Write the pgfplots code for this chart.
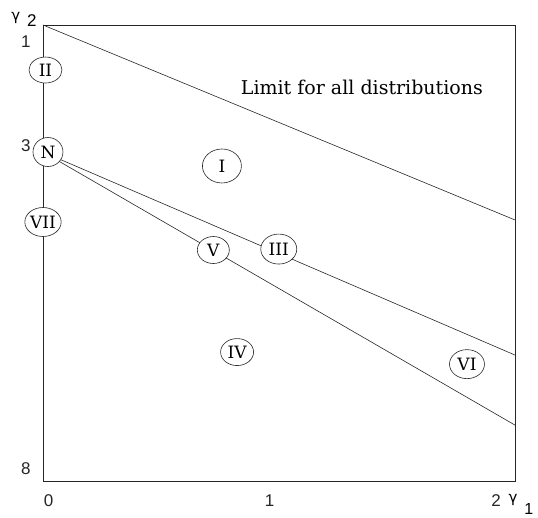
\documentclass[border=0pt]{standalone}
\usepackage{fontspec}
\setmainfont{DejaVu Serif}
\newfontfamily\ticksans{Liberation Sans}
\newfontfamily\greekfont{DejaVu Sans}
\usepackage{pgfplots}
\pgfplotsset{compat=1.18}
\usetikzlibrary{shapes.geometric}

% region boundaries in the (gamma1, gamma2) plane
\pgfplotstableread{
x      y
0      1
2.084  4.07
}\limitline
\pgfplotstableread{
x      y
0      3
2.084  6.197
}\typethree
\pgfplotstableread{
x      y
0      3
2.084  7.30
}\typefive

\tikzset{
  region/.style={draw=black!85, line width=0.6pt, ellipse, fill=white,
    inner sep=0pt, font=\fontsize{17}{17}\selectfont,
    minimum width=33pt, minimum height=28pt},
}

\begin{document}
\begin{tikzpicture}
\path[use as bounding box] (0pt,0pt) rectangle (538pt,518pt);
\begin{axis}[
    at={(43pt,37pt)}, anchor=south west,
    scale only axis,
    width=472pt, height=456pt,
    xmin=0, xmax=2.084,
    ymin=1, ymax=8.18,
    y dir=reverse,
    clip=false,
    axis line style={line width=0.9pt, black!85},
    major tick length=0pt,
    xtick={0.025,1,2}, xticklabels={0,1,2},
    ytick={1.27,2.9,7.98}, yticklabels={1,3,8},
    tick label style={font=\ticksans\fontsize{17}{17}\selectfont, black!85},
    xticklabel style={yshift=-10pt},
    yticklabel style={xshift=-9pt},
    every axis x label/.style={at={(axis description cs:1,0)}, anchor=center,
      xshift=6pt, yshift=-23pt},
    every axis y label/.style={at={(axis description cs:0,1)}, anchor=center,
      xshift=-19pt, yshift=6pt},
    xlabel={\greekfont\fontsize{15}{15}\selectfont γ\hspace{7pt}\raisebox{-12pt}{\ticksans\fontsize{16}{16}\selectfont 1}},
    ylabel={\greekfont\fontsize{15}{15}\selectfont γ\hspace{7pt}\raisebox{-6pt}{\ticksans\fontsize{17}{17}\selectfont 2}},
]
\addplot[black!85, line width=0.6pt] table {\limitline};
\addplot[black!85, line width=0.6pt] table {\typethree};
\addplot[black!85, line width=0.6pt] table {\typefive};

\node[font=\fontsize{19}{19}\selectfont] at (axis cs:1.408,1.99) {Limit for all distributions};

\node[region, minimum width=33pt, minimum height=26pt] at (axis cs:0.011,1.709) {II};
\node[region, minimum width=30pt, minimum height=29pt] at (axis cs:0.022,3.0) {N};
\node[region, minimum width=33pt, minimum height=29pt] at (axis cs:0,4.102) {VII};
\node[region, minimum width=39pt, minimum height=34pt] at (axis cs:0.790,3.22) {I};
\node[region, minimum width=32pt, minimum height=27pt] at (axis cs:0.752,4.543) {V};
\node[region, minimum width=36pt, minimum height=30pt] at (axis cs:1.041,4.528) {III};
\node[region, minimum width=33pt, minimum height=27pt] at (axis cs:0.857,6.15) {IV};
\node[region, minimum width=35pt, minimum height=29pt] at (axis cs:1.872,6.34) {VI};
\end{axis}
\end{tikzpicture}
\end{document}
